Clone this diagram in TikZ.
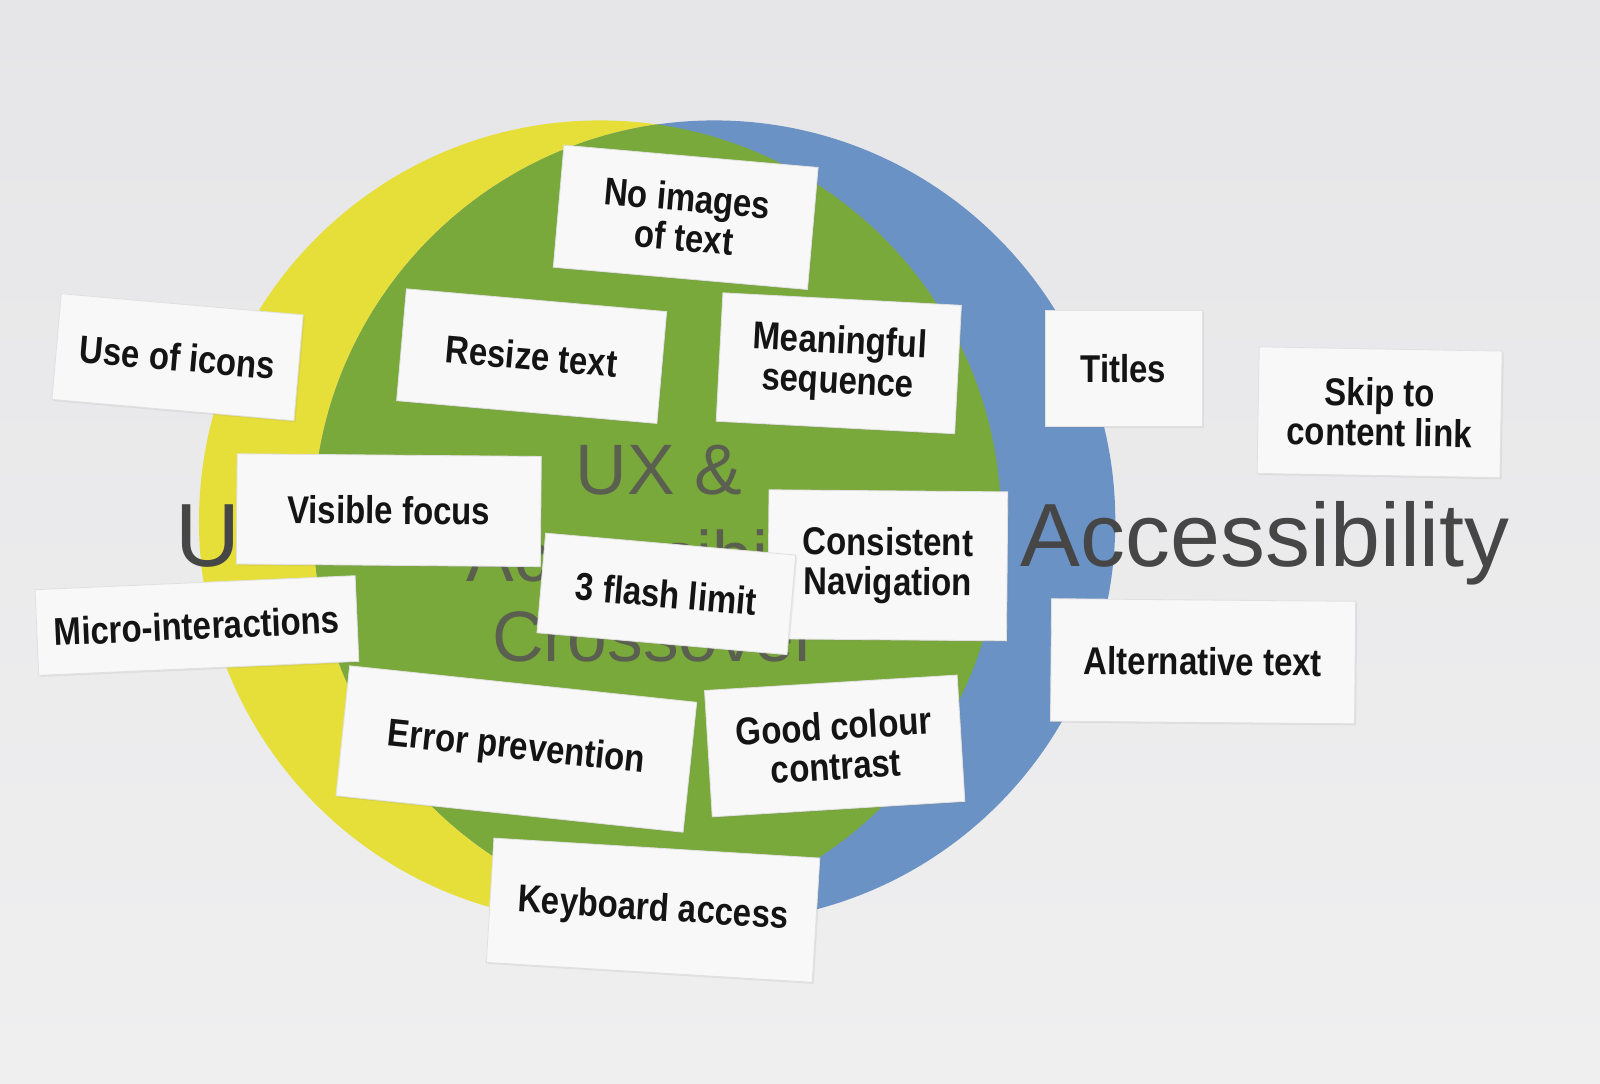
\documentclass[tikz,border=0pt]{standalone}
\usepackage{fontspec}
\setmainfont{Liberation Sans}
\newfontfamily\cardfont[FakeStretch=0.85]{Liberation Sans}
\usetikzlibrary{shadows}
\definecolor{bgtop}{HTML}{E6E6E8}
\definecolor{bgbot}{HTML}{EFEFF0}
\definecolor{ycol}{HTML}{E6DF3A}
\definecolor{gcol}{HTML}{7AA93B}
\definecolor{bcol}{HTML}{6B92C4}
\definecolor{bigtext}{HTML}{464646}
\definecolor{midtext}{HTML}{5A5F50}
\definecolor{cardfill}{HTML}{F8F8F8}
\begin{document}
\begin{tikzpicture}[x=0.5pt,y=-0.5pt,
  card/.style={draw=black!12, line width=0.4pt, fill=cardfill, inner sep=0pt,
    align=center, text=black!92,
    font=\cardfont\bfseries\fontsize{19}{19.5}\selectfont,
    drop shadow={opacity=0.12, shadow xshift=0.8pt, shadow yshift=-0.8pt}},
  big/.style={text=bigtext, font=\fontsize{44}{44}\selectfont, inner sep=0pt},
  mid/.style={text=midtext, font=\fontsize{35}{35}\selectfont, inner sep=0pt, anchor=base}]
\useasboundingbox (0,0) rectangle (1568,1062);
\shade[top color=bgtop, bottom color=bgbot] (0,0) rectangle (1568,1062);
% Venn circles
\fill[ycol] (588,511) circle (393);
\fill[bcol] (700,511) circle (393);
\begin{scope}
  \clip (588,511) circle (393);
  \fill[gcol] (700,511) circle (393);
\end{scope}
% large labels
\node[big, anchor=base west] (ux) at (172,555) {U};
\node[big, anchor=base west] (acc) at (1000,555) {Accessibility};
\node[mid] (mid1) at (646,485) {UX \&};
\node[mid] (mid2) at (648,570) {Accessibility};
\node[mid] (mid3) at (642,648) {Crossover};
% cards
\node[card, rotate=-5, minimum width=125pt, minimum height=60pt] (noimages) at (672,213) {No images\\of text};
\node[card, rotate=-5, minimum width=119pt, minimum height=52pt] (icons) at (174,350) {Use of icons};
\node[card, rotate=-5, minimum width=128pt, minimum height=55pt] (resize) at (521,349) {Resize text};
\node[card, rotate=-3, minimum width=117pt, minimum height=63pt] (meaning) at (822,356) {Meaningful\\sequence};
\node[card, rotate=0, minimum width=77pt, minimum height=57pt] (titles) at (1101,361) {Titles};
\node[card, rotate=-1, minimum width=119pt, minimum height=62pt] (skip) at (1352,404) {Skip to\\content link};
\node[card, rotate=-0.5, minimum width=149pt, minimum height=54pt] (visible) at (381,500) {Visible focus};
\node[card, rotate=-0.5, minimum width=117pt, minimum height=73pt] (consistent) at (870,554) {Consistent\\Navigation};
\node[card, rotate=-5, minimum width=123pt, minimum height=49pt] (flash) at (653,582) {3 flash limit};
\node[card, rotate=2.5, minimum width=157pt, minimum height=42pt] (micro) at (193,613) {Micro-interactions};
\node[card, rotate=-0.5, minimum width=149pt, minimum height=60pt] (alt) at (1179,648) {Alternative text};
\node[card, rotate=-6, minimum width=171pt, minimum height=64pt] (error) at (506,734) {Error prevention};
\node[card, rotate=3.5, minimum width=124pt, minimum height=62pt] (contrast) at (818,731) {Good colour\\contrast};
\node[card, rotate=-3.5, minimum width=160pt, minimum height=61pt] (keyboard) at (640,892) {Keyboard access};
\end{tikzpicture}
\end{document}
